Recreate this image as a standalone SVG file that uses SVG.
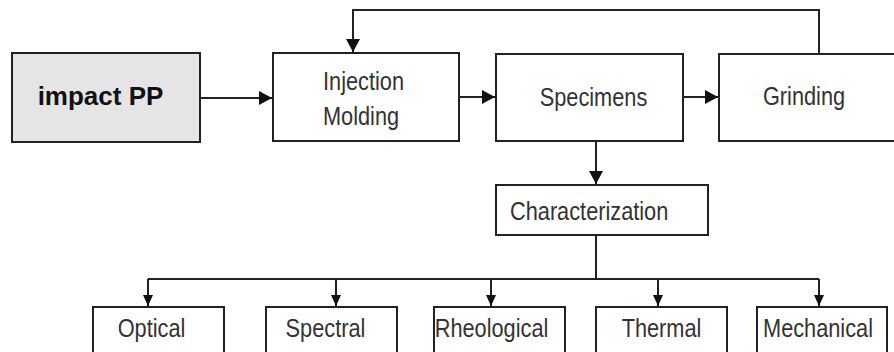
<svg xmlns="http://www.w3.org/2000/svg" width="894" height="352" viewBox="0 0 894 352">
<defs>
<marker id="ah" markerUnits="userSpaceOnUse" markerWidth="14" markerHeight="14" refX="13" refY="7" orient="auto">
<path d="M0,0 L13,7 L0,14 Z" fill="#111"/>
</marker>
<marker id="ahs" markerUnits="userSpaceOnUse" markerWidth="12" markerHeight="10" refX="11" refY="5" orient="auto">
<path d="M0,0 L11,5 L0,10 Z" fill="#111"/>
</marker>
</defs>
<style>
.box{fill:#fff;stroke:#222;stroke-width:2}
.gray{fill:#e5e5e5}
.t{font-family:"Liberation Sans",Arial,Helvetica,sans-serif;font-size:25px;fill:#333}
.b{font-family:"Liberation Sans",Arial,Helvetica,sans-serif;font-size:26px;font-weight:bold;fill:#111}
.c{fill:none;stroke:#222;stroke-width:2}
</style>
<rect width="894" height="352" fill="#fff"/>
<g id="connectors">
<path class="c" d="M200,98 H272" marker-end="url(#ah)"/>
<path class="c" d="M459,97 H495" marker-end="url(#ah)"/>
<path class="c" d="M683,97 H718" marker-end="url(#ah)"/>
<path class="c" d="M819,53 V10 H353 V52" marker-end="url(#ah)"/>
<path class="c" d="M596,141 V184" marker-end="url(#ah)"/>
<path class="c" d="M596,235 V279"/>
<path class="c" d="M148,279 H819"/>
<path class="c" d="M148,279 V306" marker-end="url(#ahs)"/>
<path class="c" d="M336,279 V306" marker-end="url(#ahs)"/>
<path class="c" d="M491,279 V306" marker-end="url(#ahs)"/>
<path class="c" d="M658,279 V306" marker-end="url(#ahs)"/>
<path class="c" d="M819,279 V306" marker-end="url(#ahs)"/>
</g>
<g id="impactPP">
<rect class="box gray" x="12" y="53" width="188" height="89"/>
<text class="b" x="100.5" y="105" text-anchor="middle">impact PP</text>
</g>
<g id="injection">
<rect class="box" x="273" y="53" width="186" height="88"/>
<text class="t" transform="translate(323,90) scale(0.87,1)">Injection</text>
<text class="t" transform="translate(323,125) scale(0.87,1)">Molding</text>
</g>
<g id="specimens">
<rect class="box" x="496" y="54" width="187" height="87"/>
<text class="t" text-anchor="middle" transform="translate(593.5,106) scale(0.87,1)">Specimens</text>
</g>
<g id="grinding">
<rect class="box" x="719" y="54" width="190" height="87"/>
<text class="t" text-anchor="middle" transform="translate(804,105) scale(0.87,1)">Grinding</text>
</g>
<g id="characterization">
<rect class="box" x="496" y="185" width="212" height="50"/>
<text class="t" transform="translate(510,220) scale(0.87,1)">Characterization</text>
</g>
<g id="optical">
<rect class="box" x="93" y="307" width="131" height="60"/>
<text class="t" text-anchor="middle" transform="translate(151.5,337) scale(0.87,1)">Optical</text>
</g>
<g id="spectral">
<rect class="box" x="266" y="307" width="131" height="60"/>
<text class="t" text-anchor="middle" transform="translate(325.5,337) scale(0.87,1)">Spectral</text>
</g>
<g id="rheological">
<rect class="box" x="434" y="307" width="131" height="60"/>
<text class="t" text-anchor="middle" transform="translate(491.5,337) scale(0.87,1)">Rheological</text>
</g>
<g id="thermal">
<rect class="box" x="596" y="307" width="131" height="60"/>
<text class="t" text-anchor="middle" transform="translate(661.5,337) scale(0.87,1)">Thermal</text>
</g>
<g id="mechanical">
<rect class="box" x="757" y="307" width="130" height="60"/>
<text class="t" text-anchor="middle" transform="translate(818,337) scale(0.87,1)">Mechanical</text>
</g>
</svg>
